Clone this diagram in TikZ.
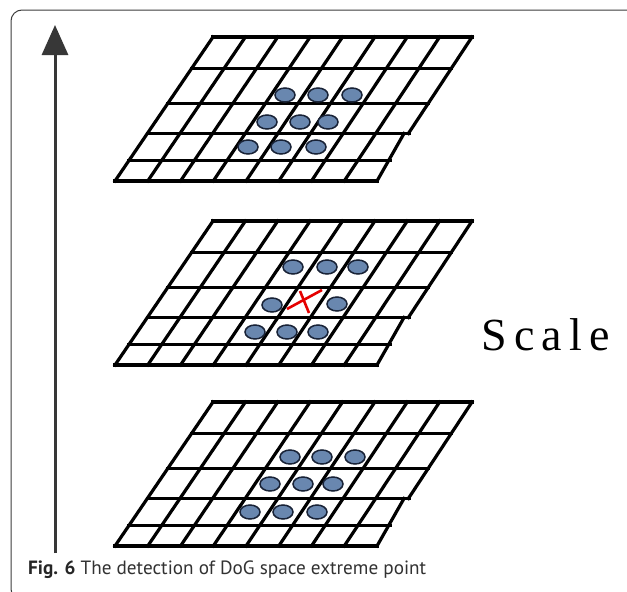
\documentclass[tikz,border=0pt]{standalone}
\usepackage{fontspec}
\setmainfont{Liberation Serif}
\newfontfamily\capfont{PT Sans}
\usetikzlibrary{arrows.meta,shapes.geometric}
\definecolor{dotblue}{RGB}{105,135,175}
\definecolor{dotedge}{RGB}{25,35,55}
\definecolor{arrowgray}{RGB}{55,55,55}
\definecolor{framegray}{RGB}{60,60,60}
\definecolor{capgray}{RGB}{50,50,50}
\newcommand\gridlayer[1]{%
  \foreach \f in {0,0.22,0.46,0.86,1}{%
    \draw[gridline] (213-98*\f,#1+144*\f) -- (472-95*\f,#1+144*\f);}
  \draw[gridline] (213-98*0.67,#1+144*0.67) -- (409,#1+144*0.67);
  \foreach \i in {0,...,7}{%
    \draw[gridline] (213+32.375*\i,#1) -- (115+32.75*\i,#1+144);}
  \draw[gridline] (472,#1) -- (408.4,#1+96.5);
  \draw[gridline] (404,#1+96.5) -- (377,#1+144);
}
\begin{document}
\begin{tikzpicture}[x=1pt,y=-1pt,
  gridline/.style={line width=3.2pt,black,line cap=rect},
  blob/.style={ellipse,draw=dotedge,line width=1.5pt,fill=dotblue,
    minimum width=20pt,minimum height=14pt,inner sep=0pt},
  cross/.style={red!90!black,line width=2.6pt},
  axis/.style={line width=3pt,arrowgray,-{Triangle[length=30pt,width=26pt]}}]
\useasboundingbox (0,0) rectangle (627,592);
\clip (0,0) rectangle (627,592);
\fill[white] (0,0) rectangle (627,592);
\draw[framegray,line width=1pt,rounded corners=11pt] (11,10) rectangle (680,600);
% axis arrow
\coordinate (abot) at (55,553);
\coordinate (atop) at (55,25);
\draw[axis] (abot) -- (atop);
% grids
\gridlayer{37}
\gridlayer{221}
\gridlayer{402}
% top layer blobs
\foreach \x/\y [count=\k] in {285/95,318/95,352/95,267/122,300/122,328/122,248/147,281/147,316/147}
  \node[blob] (t\k) at (\x,\y) {};
% middle layer blobs
\foreach \x/\y [count=\k] in {293/267,327/267,358/267,272/305,337/304,255/332,287/332,318/332}
  \node[blob] (m\k) at (\x,\y) {};
% bottom layer blobs
\foreach \x/\y [count=\k] in {290/457,322/457,355/457,270/484,303/484,333/484,250/512,283/512,317/512}
  \node[blob] (b\k) at (\x,\y) {};
% red cross
\coordinate (xa) at (287,309);
\coordinate (xb) at (322,290);
\coordinate (xc) at (300,291);
\coordinate (xd) at (309,313);
\draw[cross] (xa) -- (xb);
\draw[cross] (xc) -- (xd);
% labels
\node[anchor=base west,inner sep=0pt,font=\fontsize{46}{50}\selectfont] (scale) at (481,350)
  {\addfontfeature{LetterSpace=16}Scale};
\node[anchor=base west,inner sep=0pt,text=capgray,font=\capfont\fontsize{19.2}{22}\selectfont] (cap) at (28,574)
  {\textbf{\color{black!85}Fig. 6} The detection of DoG space extreme point};
\end{tikzpicture}
\end{document}
